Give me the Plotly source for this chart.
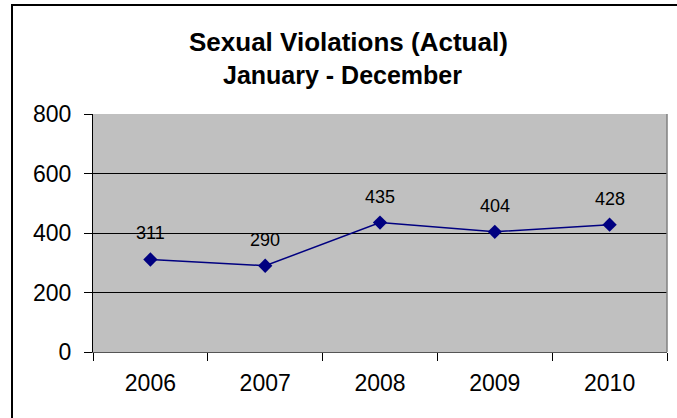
import plotly.graph_objects as go

years = ["2006", "2007", "2008", "2009", "2010"]
values = [311, 290, 435, 404, 428]
y_ticks = [0, 200, 400, 600, 800]

W, H = 677, 418
L, R, T, B = 93, 10, 114, 66
pw, ph = W - L - R, H - T - B

def px(x):
    return (x - L) / pw

def py(y):
    return (H - B - y) / ph

FONT = "Liberation Sans, Arial"

fig = go.Figure()
fig.add_trace(go.Scatter(
    x=years, y=values, mode="lines+markers",
    line=dict(color="#000080", width=1.5),
    marker=dict(symbol="diamond", size=11, color="#000080"),
    cliponaxis=False, hoverinfo="skip",
))

annotations = [
    dict(x=i, y=v, xref="x", yref="y", text=str(v), showarrow=False,
         xanchor="center", yanchor="middle", yshift=26,
         font=dict(size=18, family=FONT, color="black"))
    for i, v in enumerate(values)
]
annotations += [
    dict(text="<b>Sexual Violations (Actual)</b>", xref="paper", yref="paper",
         x=px(348), y=py(42), showarrow=False, font=dict(size=26),
         xanchor="center", yanchor="middle"),
    dict(text="<b>January - December</b>", xref="paper", yref="paper",
         x=px(342), y=py(75), showarrow=False, font=dict(size=25),
         xanchor="center", yanchor="middle"),
]

fig.update_layout(
    width=W, height=H,
    margin=dict(l=L, r=R, t=T, b=B),
    paper_bgcolor="white", plot_bgcolor="#C0C0C0",
    showlegend=False,
    font=dict(family=FONT, color="black"),
    xaxis=dict(
        type="category", categoryarray=years, range=[-0.5, len(years) - 0.5],
        tickson="boundaries", ticks="outside", ticklen=8,
        tickcolor="black", showline=True, linecolor="#555555", linewidth=1,
        showgrid=False, tickfont=dict(size=23), fixedrange=True, tickangle=0,
        ticklabelstandoff=10,
    ),
    yaxis=dict(
        range=[0, 800], tickvals=y_ticks, ticks="outside", ticklen=8,
        tickcolor="black", showline=True, linecolor="black", linewidth=1,
        showgrid=True, gridcolor="black", gridwidth=1, zeroline=False,
        tickfont=dict(size=23), fixedrange=True, ticklabelstandoff=8,
    ),
    shapes=[
        dict(type="line", xref="paper", yref="paper", x0=1, x1=1, y0=0, y1=1,
             line=dict(color="#808080", width=1.5)),
        dict(type="rect", xref="paper", yref="paper",
             x0=px(12), x1=px(W + 5), y0=py(H + 5), y1=py(5),
             line=dict(color="black", width=2), layer="above"),
    ],
    annotations=annotations,
)

fig.write_html("out.html", config={"displayModeBar": False, "staticPlot": True},
               post_script="document.body.style.margin='0';")
